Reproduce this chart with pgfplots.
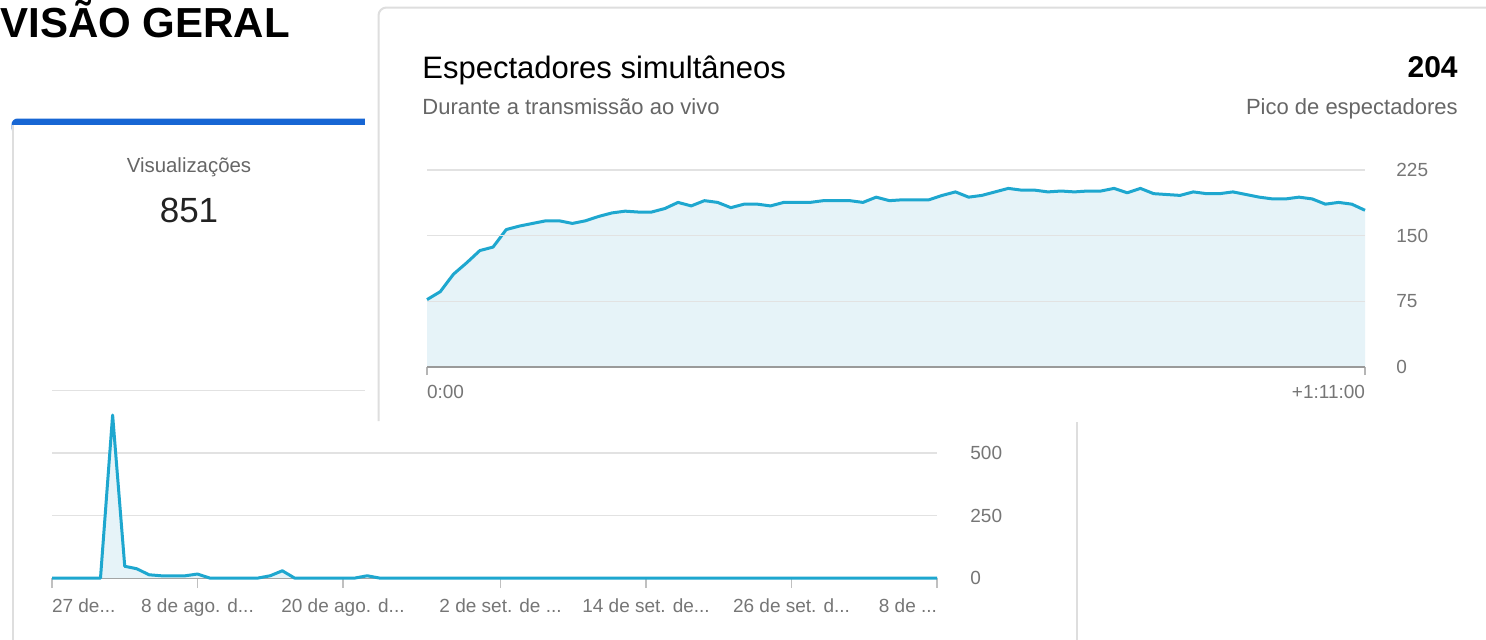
\documentclass[border=0pt]{standalone}
\usepackage{pgfplots}
\pgfplotsset{compat=1.18}
\usepackage{pgfplotstable}
\usepackage{fontspec}
\setmainfont{Liberation Sans}
\definecolor{linec}{HTML}{1EA7CF}
\definecolor{fillc}{HTML}{E6F3F8}
\definecolor{gridc}{HTML}{E2E2E2}
\definecolor{basec}{HTML}{9A9A9A}
\definecolor{tickc}{HTML}{767676}
\definecolor{subc}{HTML}{666666}
\definecolor{borderc}{HTML}{DEDEDE}
\definecolor{cardblue}{HTML}{1766D4}
\definecolor{darkc}{HTML}{222222}
\newcommand\fsz[1]{\fontsize{#1}{#1}\selectfont}
\newcommand\el{...}

\pgfplotstableread{
m v
0 77
1 86
2 106
3 119
4 133
5 137
6 157
7 161
8 164
9 167
10 167
11 164
12 167
13 172
14 176
15 178
16 177
17 177
18 181
19 188
20 184
21 190
22 188
23 182
24 186
25 186
26 184
27 188
28 188
29 188
30 190
31 190
32 190
33 188
34 194
35 190
36 191
37 191
38 191
39 196
40 200
41 194
42 196
43 200
44 204
45 202
46 202
47 200
48 201
49 200
50 201
51 201
52 204
53 199
54 204
55 198
56 197
57 196
58 200
59 198
60 198
61 200
62 197
63 194
64 192
65 192
66 194
67 192
68 186
69 188
70 186
71 179
}\live

\pgfplotstableread{
d v
0 0
1 0
2 0
3 0
4 0
5 652
6 47
7 37
8 13
9 9
10 9
11 9
12 16
13 0
14 0
15 0
16 0
17 0
18 9
19 29
20 0
21 0
22 0
23 0
24 0
25 0
26 9
27 0
28 0
29 0
30 0
31 0
32 0
33 0
34 0
35 0
36 0
37 0
38 0
39 0
40 0
41 0
42 0
43 0
44 0
45 0
46 0
47 0
48 0
49 0
50 0
51 0
52 0
53 0
54 0
55 0
56 0
57 0
58 0
59 0
60 0
61 0
62 0
63 0
64 0
65 0
66 0
67 0
68 0
69 0
70 0
71 0
72 0
73 0
}\views

\begin{document}
\begin{tikzpicture}[x=0.5pt,y=-0.5pt]
\useasboundingbox (0,0) rectangle (1486,639);
\clip (0,0) rectangle (1486,639);
\fill[white] (0,0) rectangle (1486,639);

% left card (Visualizacoes)
\fill[cardblue, rounded corners=3pt] (11.5,118.5) rectangle (372,134);
\fill[white] (13.5,124.5) rectangle (372,136);
\draw[borderc, line width=1pt] (12.5,124.5) -- (12.5,645);
\draw[borderc, line width=1pt] (1077,422) -- (1077,645);

\node[anchor=base west, inner sep=0pt] at (0,37) {\fsz{21pt}\bfseries VISÃO GERAL};
\node[anchor=base, inner sep=0pt, text=subc] at (189,172) {\fsz{10.2pt}Visualizações};
\node[anchor=base, inner sep=0pt, text=darkc] at (189,222) {\fsz{17.5pt}851};

% views chart
\begin{axis}[
  at={(26pt,-289pt)}, anchor=south west, scale only axis,
  width=442.5pt, height=93.75pt,
  xmin=0, xmax=73, ymin=0, ymax=750,
  axis x line*=bottom, axis y line*=right,
  x axis line style={basec, line width=0.75pt},
  y axis line style={draw=none},
  ymajorgrids, grid style={gridc, line width=0.6pt},
  ytick={0,250,500,750}, ytick style={draw=none},
  xtick={0,12,24,37,49,61,73},
  xticklabels={{\makebox[0pt][l]{27 de\el}}, {8 de ago. d\el}, {20 de ago. d\el}, {2 de set. de \el}, {14 de set. de\el}, {26 de set. d\el}, {\makebox[0pt][r]{8 de \el}}},
  tick align=outside, major tick length=5pt,
  xtick style={draw=gridc!85!black, line width=0.6pt},
  /pgf/number format/assume math mode=true,
  tick label style={font=\fsz{9.5pt}, text=tickc},
  yticklabel style={anchor=west, inner sep=0pt, xshift=11.5pt},
  xticklabel style={anchor=north, inner sep=0pt, yshift=-5pt},
  no markers, clip=false,
]
\addplot[fill=fillc, draw=none] table[x=d,y=v]{\views} \closedcycle;
\addplot[linec, line width=1.5pt, line join=round] table[x=d,y=v]{\views};
\end{axis}

% top card (Espectadores simultaneos)
\fill[white] (365,0) rectangle (1486,420);
\draw[borderc, line width=1pt, rounded corners=4pt] (378.5,421) -- (378.5,7.5) -- (1495,7.5);

\node[anchor=base west, inner sep=0pt] at (422,78) {\fsz{15.5pt}Espectadores simultâneos};
\node[anchor=base west, inner sep=0pt, text=subc] at (422,114) {\fsz{11pt}Durante a transmissão ao vivo};
\node[anchor=base east, inner sep=0pt] at (1458,77) {\fsz{15pt}\bfseries 204};
\node[anchor=base east, inner sep=0pt, text=subc] at (1458,114) {\fsz{11pt}Pico de espectadores};

\begin{axis}[
  at={(213.5pt,-183.5pt)}, anchor=south west, scale only axis,
  width=469pt, height=98.5pt,
  xmin=0, xmax=71, ymin=0, ymax=225,
  axis on top,
  axis x line*=bottom, axis y line*=right,
  x axis line style={basec, line width=0.9pt},
  y axis line style={draw=none},
  ymajorgrids, grid style={gridc, line width=0.6pt},
  ytick={0,75,150,225}, ytick style={draw=none},
  xtick={0,71},
  xticklabels={{\makebox[0pt][l]{0:00}}, {\makebox[0pt][r]{+1:11:00}}},
  tick align=outside, major tick length=4pt,
  xtick style={draw=gridc!80!black, line width=0.6pt},
  /pgf/number format/assume math mode=true,
  tick label style={font=\fsz{9.5pt}, text=tickc},
  yticklabel style={anchor=west, inner sep=0pt, xshift=11.5pt},
  xticklabel style={anchor=north, inner sep=0pt, yshift=-5pt},
  no markers, clip=false,
]
\addplot[fill=fillc, draw=none] table[x=m,y=v]{\live} \closedcycle;
\addplot[linec, line width=1.5pt, line join=round] table[x=m,y=v]{\live};
\end{axis}
\end{tikzpicture}
\end{document}
